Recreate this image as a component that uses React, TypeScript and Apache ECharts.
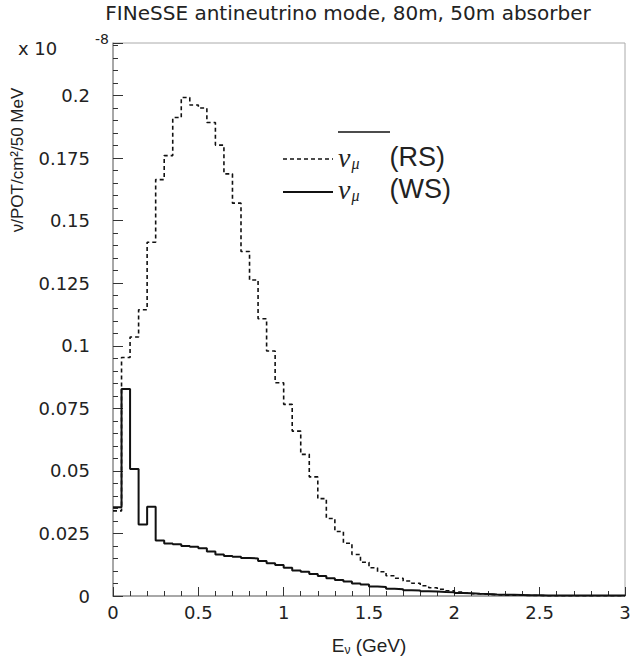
import React, { useEffect, useRef } from "react";
import * as echarts from "echarts";

const TITLE = "FINeSSE antineutrino mode, 80m, 50m absorber";
const Y_TITLE = "ν/POT/cm²/50 MeV";
const BIN_WIDTH = 0.05; // GeV (50 MeV bins)
const X_MAX = 3;
const Y_MAX = 0.221;

// anti-nu_mu (right sign), dashed histogram, units of 1e-8 nu/POT/cm^2/50 MeV
const RS_VALUES = [
  0.034, 0.0953, 0.1035, 0.1144, 0.1414, 0.1664, 0.176, 0.1912, 0.1992, 0.1962,
  0.195, 0.1892, 0.1802, 0.1687, 0.157, 0.1377, 0.1263, 0.1108, 0.0979, 0.0852,
  0.0766, 0.0659, 0.0566, 0.0476, 0.0389, 0.031, 0.0258, 0.0211, 0.0166, 0.0135,
  0.0113, 0.0097, 0.0081, 0.0071, 0.006, 0.0051, 0.0041, 0.0033, 0.0027, 0.0021,
  0.0016, 0.0012, 0.0009, 0.0007, 0.0005, 0.0004, 0.0003, 0.0003, 0.0002, 0.0002,
  0.0001, 0.0001, 0.0001, 0.0001, 0.0001, 0.0001, 0.0001, 0.0001, 0.0001, 0.0001,
];

// nu_mu (wrong sign), solid histogram
const WS_VALUES = [
  0.0355, 0.0827, 0.0508, 0.0286, 0.0357, 0.0222, 0.021, 0.0207, 0.02, 0.0197,
  0.0191, 0.0178, 0.0166, 0.016, 0.0157, 0.0152, 0.015, 0.014, 0.0131, 0.0124,
  0.0113, 0.0102, 0.0097, 0.0088, 0.008, 0.0071, 0.0064, 0.0058, 0.005, 0.0046,
  0.0038, 0.0036, 0.0029, 0.0027, 0.0023, 0.0022, 0.0019, 0.0018, 0.0016, 0.0015,
  0.0012, 0.0011, 0.0009, 0.0008, 0.0006, 0.0005, 0.0005, 0.0004, 0.0003, 0.0003,
  0.0002, 0.0002, 0.0002, 0.0002, 0.0002, 0.0002, 0.0002, 0.0002, 0.0002, 0.0002,
];

const toSteps = (vals: number[]) => {
  const pts: number[][] = vals.map((v, i) => [+(i * BIN_WIDTH).toFixed(3), v]);
  pts.push([+(vals.length * BIN_WIDTH).toFixed(3), vals[vals.length - 1]]);
  return pts;
};

const TICK_FONT = "DejaVu Sans";
const HELV = "Liberation Sans";
const TXT = "#222";

export default function App() {
  const ref = useRef<HTMLDivElement>(null);
  useEffect(() => {
    if (!ref.current) return;
    const chart = echarts.init(ref.current, null, { renderer: "svg" });
    const legendRich = {
      nu: { fontFamily: "Liberation Serif", fontStyle: "italic", fontSize: 28, fill: TXT },
      sub: {
        fontFamily: "Liberation Serif",
        fontStyle: "italic",
        fontSize: 16,
        fill: TXT,
        verticalAlign: "bottom",
        padding: [0, 30, 0, 1],
      },
      r: { fontFamily: HELV, fontSize: 27, fill: TXT },
    };
    chart.setOption({
      animation: false,
      backgroundColor: "#fff",
      grid: {
        left: 113,
        right: 7,
        top: 43,
        bottom: 62,
        containLabel: false,
        outerBoundsMode: "none",
        show: true,
        borderColor: "#aaa",
        borderWidth: 1,
        backgroundColor: "transparent",
      },
      xAxis: {
        type: "value",
        min: 0,
        max: X_MAX,
        interval: 0.5,
        name: "{e|E}{s|ν} (GeV)",
        nameLocation: "middle",
        nameGap: 38,
        nameTextStyle: {
          fontFamily: HELV,
          fontSize: 19,
          color: TXT,
          lineHeight: 22,
          rich: {
            e: { fontFamily: HELV, fontSize: 19, color: TXT, lineHeight: 22 },
            s: { fontFamily: HELV, fontSize: 12, color: TXT, verticalAlign: "bottom", lineHeight: 22 },
          },
        },
        axisLine: { show: true, lineStyle: { color: "#999", width: 1.5 } },
        axisTick: { show: true, inside: true, length: 9, lineStyle: { color: "#333", width: 1 } },
        minorTick: { show: true, splitNumber: 5, length: 5, lineStyle: { color: "#333", width: 1 } },
        splitLine: { show: false },
        axisLabel: { fontFamily: TICK_FONT, fontSize: 18, color: TXT, margin: 7 },
      },
      yAxis: {
        type: "value",
        min: 0,
        max: Y_MAX,
        interval: 0.025,
        axisLine: { show: true, lineStyle: { color: "#999", width: 1.5 } },
        axisTick: { show: true, inside: true, length: 10, lineStyle: { color: "#333", width: 1 } },
        minorTick: { show: true, splitNumber: 5, length: 5, lineStyle: { color: "#333", width: 1 } },
        splitLine: { show: false },
        axisLabel: {
          fontFamily: TICK_FONT,
          fontSize: 18,
          color: TXT,
          margin: 23,
          showMaxLabel: false,
        },
      },
      series: [
        {
          name: "RS",
          type: "line",
          step: "end",
          showSymbol: false,
          symbol: "none",
          data: toSteps(RS_VALUES),
          lineStyle: { color: "#111", width: 1.6, type: [4, 3] },
          z: 3,
        },
        {
          name: "WS",
          type: "line",
          step: "end",
          showSymbol: false,
          symbol: "none",
          data: toSteps(WS_VALUES),
          lineStyle: { color: "#111", width: 2 },
          z: 4,
        },
      ],
      graphic: [
        {
          type: "text",
          x: 348,
          y: 13,
          style: {
            text: TITLE,
            fontFamily: TICK_FONT,
            fontSize: 20,
            fill: TXT,
            align: "center",
            verticalAlign: "middle",
          },
        },
        {
          type: "text",
          x: 17,
          y: 160,
          rotation: Math.PI / 2,
          style: {
            text: Y_TITLE,
            fontFamily: HELV,
            fontSize: 17,
            fill: TXT,
            align: "center",
            verticalAlign: "middle",
          },
        },
        {
          type: "text",
          x: 18,
          y: 48,
          style: { text: "x 10", fontFamily: TICK_FONT, fontSize: 18, fill: TXT, align: "left", verticalAlign: "middle" },
        },
        {
          type: "text",
          x: 95,
          y: 39,
          style: { text: "-8", fontFamily: TICK_FONT, fontSize: 14, fill: TXT, align: "left", verticalAlign: "middle" },
        },
        {
          type: "group",
          children: [
            {
              type: "line",
              shape: { x1: 283, y1: 159, x2: 333, y2: 159 },
              style: { stroke: "#111", lineWidth: 1.6, lineDash: [4, 3] },
            },
            {
              type: "line",
              shape: { x1: 338, y1: 132, x2: 390, y2: 132 },
              style: { stroke: "#111", lineWidth: 1.5 },
            },
            {
              type: "text",
              x: 338,
              y: 157,
              style: {
                text: "{nu|ν}{sub|μ}{r|(RS)}",
                rich: legendRich,
                align: "left",
                verticalAlign: "middle",
              },
            },
            {
              type: "line",
              shape: { x1: 283, y1: 192, x2: 333, y2: 192 },
              style: { stroke: "#111", lineWidth: 2 },
            },
            {
              type: "text",
              x: 338,
              y: 189,
              style: {
                text: "{nu|ν}{sub|μ}{r|(WS)}",
                rich: legendRich,
                align: "left",
                verticalAlign: "middle",
              },
            },
          ],
        },
      ],
    });
    return () => chart.dispose();
  }, []);
  return (
    <div
      ref={ref}
      style={{ position: "absolute", left: 0, top: 0, width: 632, height: 658, background: "#fff" }}
    />
  );
}
